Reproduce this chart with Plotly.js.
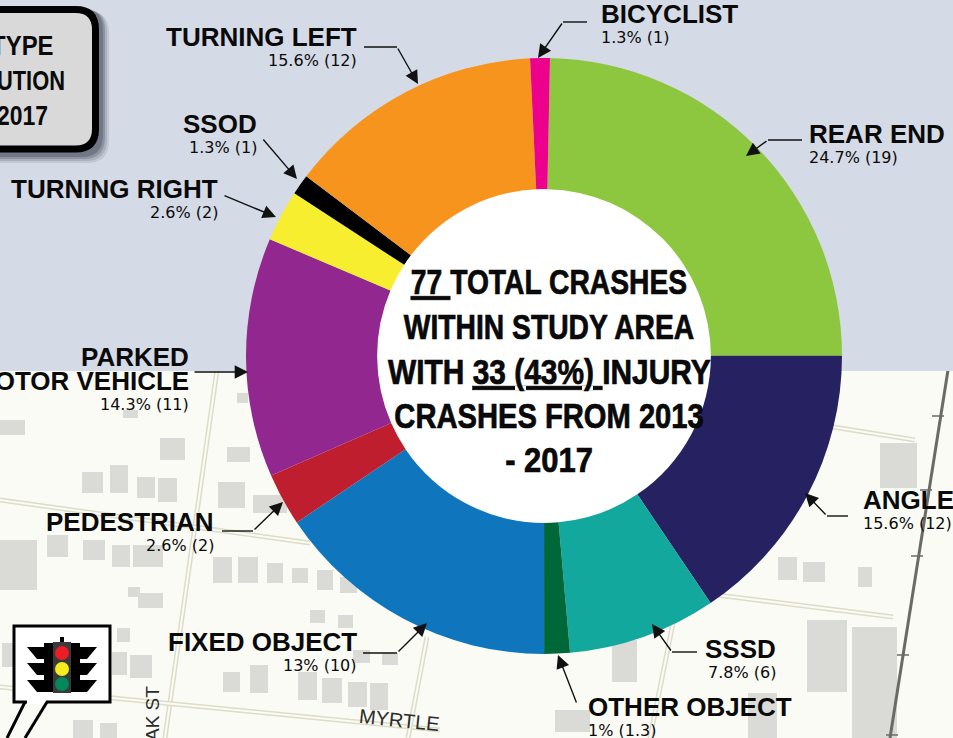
<!DOCTYPE html>
<html><head><meta charset="utf-8">
<script src="https://cdn.plot.ly/plotly-3.0.1.min.js"></script>
<style>html,body{margin:0;padding:0;background:#fbfbf6;overflow:hidden}#c{width:953px;height:738px}</style>
</head><body><div id="c"></div>
<script>
const categories = ['REAR END','ANGLE','SSSD','OTHER OBJECT','FIXED OBJECT','PEDESTRIAN','PARKED MOTOR VEHICLE','TURNING RIGHT','SSOD','TURNING LEFT','BICYCLIST'];
const sliceSizes = [19,12,6.2,1.07,12,2.2,10,2.15,0.85,10.75,0.82];
const sliceColors = ['#8dc63f','#262262','#12a89d','#006838','#0f75bd','#be1e2d','#92278f','#f7ee2f','#000000','#f7941e','#ec008c'];
const centerLines = ['<u>77 </u>TOTAL CRASHES','WITHIN STUDY AREA','WITH <u>33 (43%) </u>INJURY','CRASHES FROM 2013','- 2017'];
const boxLines = ['TYPE','UTION','2017'];

// ---- label table: name, share text, anchor side, x, name y, share y
const labelRows = [
 ['TURNING LEFT','15.6% (12)','right',358,37,60],
 ['SSOD','1.3% (1)','right',258,124,147],
 ['TURNING RIGHT','2.6% (2)','right',219,189,212],
 ['MOTOR VEHICLE','14.3% (11)','right',190,381,404],
 ['PEDESTRIAN','2.6% (2)','right',215,522,545],
 ['FIXED OBJECT','13% (10)','right',358,642,665],
 ['BICYCLIST','1.3% (1)','left',600,14,37],
 ['REAR END','24.7% (19)','left',808,134,157],
 ['ANGLE','15.6% (12)','left',862,500,523],
 ['SSSD','7.8% (6)','right',777,649,672],
 ['OTHER OBJECT','1% (1.3)','left',587,707,730]
];
// leader start, elbow, tip
const leaders = [
 [[364,47],[397,47],[418,84]],
 [[587,22],[563,22],[538,58]],
 [[802,140],[768,140],[746,156]],
 [[848,516],[827,516],[805,493]],
 [[697,652],[672,652],[652,624]],
 [[577,704],[577,704],[558,655]],
 [[363,653],[397,653],[427,623]],
 [[222,531],[253,531],[283,502]],
 [[193,372],[193,372],[248,372]],
 [[223,195],[223,195],[276,217]],
 [[262,138],[262,138],[297,179]]
];
// ---- backdrop map decoration: [x0,y0,x1,y1]
const buildings = [[160,438,185,460],[227,447,250,462],[82,472,103,493],[110,465,128,493],[137,477,155,498],[158,478,177,502],[218,482,245,508],[253,495,287,513],[0,540,37,590],[47,535,68,557],[83,540,105,560],[112,545,130,567],[133,545,163,567],[213,557,232,583],[238,557,258,583],[267,563,283,583],[317,570,333,590],[340,577,357,593],[292,568,308,583],[128,587,140,597],[138,593,163,608],[310,610,325,623],[338,615,353,628],[117,628,130,642],[112,652,127,675],[130,655,152,678],[223,672,240,692],[250,665,268,693],[298,672,317,700],[322,678,342,703],[348,682,367,707],[370,683,388,710],[382,653,398,665],[353,650,370,663],[0,420,25,435],[123,410,138,418],[237,393,248,403],[2,643,13,667],[73,720,93,738],[100,723,117,738],[880,443,917,488],[778,557,797,580],[803,562,825,582],[858,567,872,587],[807,620,847,692],[852,627,897,738],[748,693,777,738],[612,640,637,682],[555,710,590,732]];
const roads = [[217,370,165,738],[0,500,310,543],[0,687,440,730],[427,637,408,738],[673,623,650,738],[833,427,915,440],[717,595,893,617]];

const W=953,H=738;
const px=x=>x/W, py=y=>1-y/H;
const FW='"Liberation Sans", Arial, sans-serif', FS='"DejaVu Sans", sans-serif';
const shapes=[], annotations=[], squeezed=[];
const rect=(x0,y0,x1,y1,fill,extra={})=>shapes.push(Object.assign({type:'rect',xref:'paper',yref:'paper',x0:px(x0),x1:px(x1),y0:py(y0),y1:py(y1),fillcolor:fill,line:{width:0},layer:'below'},extra));
const line=(x0,y0,x1,y1,color,w,extra={})=>shapes.push(Object.assign({type:'line',xref:'paper',yref:'paper',x0:px(x0),x1:px(x1),y0:py(y0),y1:py(y1),line:{color:color,width:w},layer:'below'},extra));
const circ=(cx,cy,r,fill,extra={})=>shapes.push(Object.assign({type:'circle',xref:'paper',yref:'paper',x0:px(cx-r),x1:px(cx+r),y0:py(cy+r),y1:py(cy-r),fillcolor:fill,line:{width:0},layer:'below'},extra));
const poly=(pts,fill,extra={})=>shapes.push(Object.assign({type:'path',xref:'paper',yref:'paper',path:'M '+pts.map(p=>px(p[0])+','+py(p[1])).join(' L ')+' Z',fillcolor:fill,line:{width:0},layer:'above'},extra));
const txt=(s,x,y,size,font,anchor,extra={})=>annotations.push(Object.assign({text:s,xref:'paper',yref:'paper',x:px(x),y:py(y),xanchor:anchor,yanchor:'middle',showarrow:false,borderpad:0,font:{family:font,size:size,color:'#0a0a0a'}},extra));
const rounded=(l,t,r,b,c)=>`M ${px(l)},${py(t)} L ${px(r-c)},${py(t)} Q ${px(r)},${py(t)} ${px(r)},${py(t+c)} L ${px(r)},${py(b-c)} Q ${px(r)},${py(b)} ${px(r-c)},${py(b)} L ${px(l)},${py(b)} Z`;

// map
rect(0,370,W,H,'#fbfbf6');
roads.forEach(r=>{line(...r,'#dcdcc8',5);line(...r,'#fbfbf6',2);});
buildings.forEach(b=>rect(...b,'#dadad6'));
line(948,370,890,738,'#6b6b66',3);
[[938,416],[926,490],[917,556],[903,655],[892,735]].forEach(([x,y])=>line(x-6,y,x+6,y,'#6b6b66',1.5));
// sky panel
rect(0,0,W,371,'#d5dbe6');
// doughnut hole
circ(544,356,170,'#ffffff');

// title box with soft shadow
[[10,.10],[8,.14],[6,.2],[4,.25]].forEach(([d,a])=>shapes.push({type:'path',xref:'paper',yref:'paper',layer:'above',fillcolor:`rgba(30,35,50,${a})`,line:{width:0},path:rounded(-30,6+d/2,99+d,153+d,22)}));
shapes.push({type:'path',xref:'paper',yref:'paper',layer:'above',fillcolor:'#d9d9d9',line:{color:'#000',width:7},path:rounded(-30,9.5,95.5,149,20)});
boxLines.forEach((s,i)=>{squeezed.push([annotations.length,[.885,.81,.85][i],'right center',0]);txt('<b>'+s+'</b>',[55,66,49][i],[46,81,116][i],27,FW,'right');});

// traffic light sign
rect(14,626,110,702,'#ffffff',{line:{color:'#000',width:3},layer:'above'});
rect(27,700,46,704,'#ffffff',{layer:'above'});
line(25,702,7,738,'#000',3,{layer:'above'});
line(47,702,25,738,'#000',3,{layer:'above'});
[647,663,680].forEach(y=>{
  poly([[27,y],[44,y],[44,y+12],[37,y+12]],'#000');
  poly([[97,y],[80,y],[80,y+12],[87,y+12]],'#000');
});
rect(44,643,80,692,'#000',{layer:'above'});
poly([[60,643],[60,637],[64,637],[64,643]],'#000');
rect(53,642,71,693,'#3a3a3a',{layer:'above'});
circ(62,653,7,'#ee1c25',{layer:'above'});
circ(62,669,7,'#f5ec20',{layer:'above'});
circ(62,684,7,'#00875a',{layer:'above'});

// street names
txt('MYRTLE',399,720,20,FW,'center',{textangle:6,font:{family:FW,size:20,color:'#2c2c2c'}});
txt('AK ST',152,714,19,FW,'center',{textangle:-90,font:{family:FW,size:19,color:'#2c2c2c'}});

// leaders
leaders.forEach(([a,b,c])=>{
  if(a[0]!==b[0]||a[1]!==b[1]) line(a[0],a[1],b[0],b[1],'#111',1.4,{layer:'above'});
  annotations.push({xref:'paper',yref:'paper',x:px(c[0]),y:py(c[1]),ax:b[0]-c[0],ay:b[1]-c[1],axref:'pixel',ayref:'pixel',text:'',showarrow:true,arrowhead:2,arrowsize:1.9,arrowwidth:1.4,arrowcolor:'#111'});
});

// labels
txt('<b>PARKED</b>',190,357,26,FW,'right');
labelRows.forEach(([n,p,side,x,y1,y2])=>{
  txt('<b>'+n+'</b>',x,y1,26,FW,side);
  txt(p,x,y2,16,FS,side);
});
// centre text
centerLines.forEach((s,i)=>{squeezed.push([annotations.length,[.785,.785,.83,.81,.86][i],'center center',.7]);txt('<b>'+s+'</b>',549,[281,326,371,416,460][i],36,FW,'center');});

const trace={type:'pie',labels:categories,values:sliceSizes,sort:false,direction:'clockwise',rotation:1.15,hole:0.56,
  marker:{colors:sliceColors,line:{width:0}},textinfo:'none',hoverinfo:'label+value',showlegend:false,
  domain:{x:[px(246),px(842)],y:[py(654),py(58)]}};
Plotly.newPlot('c',[trace],{width:W,height:H,margin:{l:0,r:0,t:0,b:0},paper_bgcolor:'#fbfbf6',showlegend:false,shapes,annotations},{displayModeBar:false,staticPlot:true}).then(()=>{
  // the installed fonts have no condensed bold cut, so the heavy headline text is narrowed here
  squeezed.forEach(([i,sx,origin,stroke])=>{
    const t=document.querySelector(`.annotation[data-index="${i}"] .annotation-text`);
    if(!t) return;
    t.style.transformBox='fill-box';
    t.style.transformOrigin=origin;
    t.style.transform=`scaleX(${sx})`;
    if(stroke){t.style.stroke='#000';t.style.strokeWidth=stroke+'px';}
  });
});
</script></body></html>
